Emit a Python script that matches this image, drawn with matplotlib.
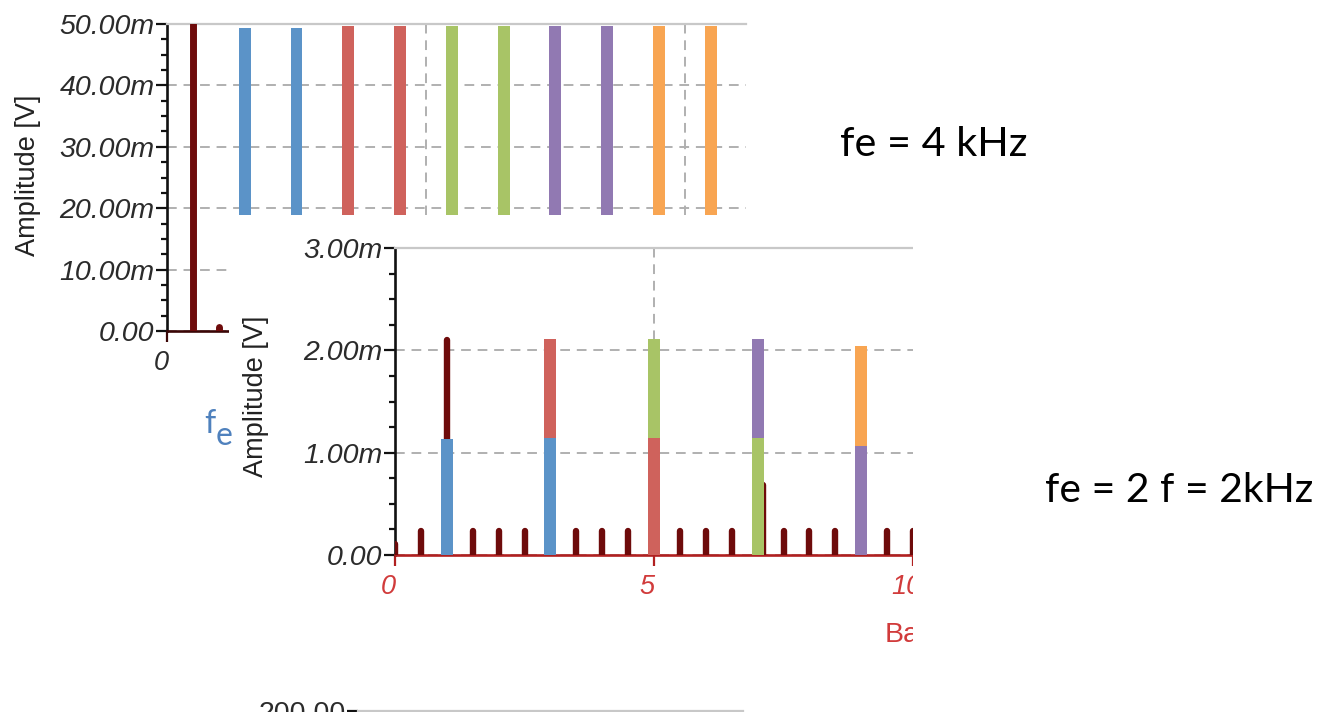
import matplotlib
matplotlib.use("Agg")
import matplotlib.pyplot as plt
import matplotlib.transforms as mtransforms
from matplotlib.patches import Rectangle
from matplotlib.ticker import MultipleLocator

plt.rcParams["font.family"] = ["Liberation Sans", "DejaVu Sans"]

W, H = 1322, 712

# spectrum with fe = 4 kHz (amplitudes in mV)
fe4_line_x = [0.5, 1.0]
fe4_line_amp = [50.0, 0.6]
fe4_bar_x = [1.5, 2.5, 3.5, 4.5, 5.5, 6.5, 7.5, 8.5, 9.5, 10.5]
fe4_bar_amp = [49.4, 49.4, 49.6, 49.6, 49.6, 49.6, 49.6, 49.6, 49.6, 49.6]
fe4_bar_col = ["blue", "blue", "red", "red", "green", "green",
               "purple", "purple", "orange", "orange"]
fe4_yticks = [0, 10, 20, 30, 40, 50]

# spectrum with fe = 2 f = 2 kHz
fe2_line_x = [0, 0.5, 1.0, 1.5, 2.0, 2.5, 3.5, 4.0, 4.5, 5.5, 6.0, 6.5,
              7.1, 7.5, 8.0, 8.5, 9.5, 10.0]
fe2_line_amp = [0.11, 0.23, 2.10, 0.23, 0.23, 0.23, 0.23, 0.23, 0.23, 0.23,
                0.23, 0.23, 0.68, 0.23, 0.23, 0.23, 0.23, 0.23]
fe2_bar_x = [1, 3, 5, 7, 9]
fe2_bar_low = [1.13, 1.14, 1.14, 1.14, 1.07]
fe2_bar_total = [1.13, 2.11, 2.11, 2.11, 2.04]
fe2_low_col = ["blue", "blue", "red", "green", "purple"]
fe2_top_col = [None, "red", "green", "purple", "orange"]
fe2_yticks = [0, 1, 2, 3]
fe2_xticks = [0, 5, 10]

palette = {"blue": "#5b93c8", "red": "#cf625c", "green": "#a8c466",
           "purple": "#9179b2", "orange": "#f8a552"}
stem_col = "#6e0b0b"
label_col = "#2b2b2b"


def px_axes(fig, left, top, right, bottom):
    return fig.add_axes([left / W, 1 - bottom / H, (right - left) / W, (bottom - top) / H])


def milli(v):
    return "0.00" if v == 0 else "%.2fm" % v


def style(ax, base_col, yticks, minor):
    ax.spines["right"].set_visible(False)
    ax.spines["top"].set_color("#c8c8c8")
    ax.spines["top"].set_linewidth(1.6)
    ax.spines["left"].set_color("#111111")
    ax.spines["left"].set_linewidth(1.9)
    ax.spines["bottom"].set_color(base_col)
    ax.spines["bottom"].set_linewidth(1.9)
    ax.grid(True, color="#b0b0b0", linestyle=(0, (5, 3.5)), linewidth=1.4)
    ax.set_axisbelow(True)
    ax.set_yticks(yticks, [milli(v) for v in yticks], fontstyle="italic",
                  fontsize=20.5, color=label_col)
    ax.yaxis.set_minor_locator(MultipleLocator(minor))
    ax.tick_params(axis="y", which="major", length=8, width=1.6, pad=1, color="#111111")
    ax.tick_params(axis="y", which="minor", length=4.5, width=1.6, color="#111111")
    ax.tick_params(axis="x", which="major", length=8, width=1.6, pad=6, color=base_col)


def shift_xlabels(fig, ax, dx):
    off = mtransforms.ScaledTranslation(dx / 100, 0, fig.dpi_scale_trans)
    for lbl in ax.get_xticklabels():
        lbl.set_transform(lbl.get_transform() + off)


fig = plt.figure(figsize=(W / 100, H / 100), dpi=100)

# upper spectrum, fe = 4 kHz
ax_a = px_axes(fig, 167, 24, 746, 331)
ax_a.set_xlim(0, 11.18)
ax_a.set_ylim(0, 50)
style(ax_a, "#3a0606", fe4_yticks, 2.5)
ax_a.set_xticks([0, 5, 10], ["0", "5", "10"], fontstyle="italic", fontsize=19.5, color=label_col)
shift_xlabels(fig, ax_a, -6)
ax_a.bar(fe4_bar_x, fe4_bar_amp, width=0.23,
         color=[palette[c] for c in fe4_bar_col], zorder=3)
ax_a.vlines(fe4_line_x, 0, fe4_line_amp, color=stem_col, linewidth=5,
            capstyle="round", zorder=4)
ax_a.set_ylabel("Amplitude [V]", fontsize=19.5, color="#222222", va="center")
ax_a.yaxis.set_label_coords(-0.2401, 0.508)

# the second capture sits on top of the first one
fig.add_artist(Rectangle((229 / W, 0), (913 - 229) / W, 1 - 215 / H,
                         transform=fig.transFigure, facecolor="white",
                         edgecolor="none", zorder=1))

# lower spectrum, fe = 2 kHz
ax_b = px_axes(fig, 395, 248, 913, 555)
ax_b.set_zorder(2)
ax_b.set_xlim(0, 10)
ax_b.set_ylim(0, 3)
style(ax_b, "#b02020", fe2_yticks, 0.25)
ax_b.set_xticks(fe2_xticks, [str(v) for v in fe2_xticks], fontstyle="italic",
                fontsize=19.5, color="#d13b3b")
ax_b.xaxis.get_major_ticks()[-1].gridline.set_visible(False)
shift_xlabels(fig, ax_b, -7)
ax_b.vlines(fe2_line_x, 0, fe2_line_amp, color=stem_col, linewidth=4.6,
            capstyle="round", zorder=3)
ax_b.bar(fe2_bar_x, fe2_bar_low, width=0.23,
         color=[palette[c] for c in fe2_low_col], zorder=4)
for x, lo, tot, c in zip(fe2_bar_x, fe2_bar_low, fe2_bar_total, fe2_top_col):
    if c is not None:
        ax_b.bar(x, tot - lo, bottom=lo, width=0.23, color=palette[c], zorder=4)
ax_b.set_ylabel("Amplitude [V]", fontsize=19.5, color="#222222", va="center")
ax_b.yaxis.set_label_coords(-0.2683, 0.518)
ax_b.set_xlabel("Ba", fontsize=20.5, color="#d13b3b", ha="left", va="center")
ax_b.xaxis.set_label_coords(0.946, -0.2606)

# third plot, only its top edge shows
ax_c = px_axes(fig, 358, 711, 743, 1100)
ax_c.set_zorder(2)
ax_c.set_ylim(0, 200)
ax_c.set_xticks([])
ax_c.set_yticks([200], ["200.00"], fontsize=20.5, color=label_col)
ax_c.tick_params(axis="y", length=8, width=1.6, pad=1, color="#111111")
ax_c.spines["right"].set_visible(False)
ax_c.spines["bottom"].set_visible(False)
ax_c.spines["top"].set_color("#c8c8c8")
ax_c.spines["top"].set_linewidth(1.6)

# right edge of the second capture
fig.add_artist(Rectangle((913 / W, 0), 1 - 913 / W, 1 - 215 / H,
                         transform=fig.transFigure, facecolor="white",
                         edgecolor="none", zorder=3))

fig.text(840 / W, 1 - 155.7 / H, "fe = 4 kHz", fontsize=29.8, family="Lato",
         va="baseline", ha="left", zorder=5)
fig.text(1045 / W, 1 - 501.7 / H, "fe = 2 f = 2kHz", fontsize=29.4, family="Lato",
         va="baseline", ha="left", zorder=5)
fig.text(204 / W, 1 - 433 / H, "f", fontsize=23, family="Lato", color="#4f81bd",
         va="baseline", ha="left", zorder=5)
fig.text(216 / W, 1 - 445 / H, "e", fontsize=23, family="Lato", color="#4f81bd",
         va="baseline", ha="left", zorder=5)

fig.savefig("out.png", dpi=100)
